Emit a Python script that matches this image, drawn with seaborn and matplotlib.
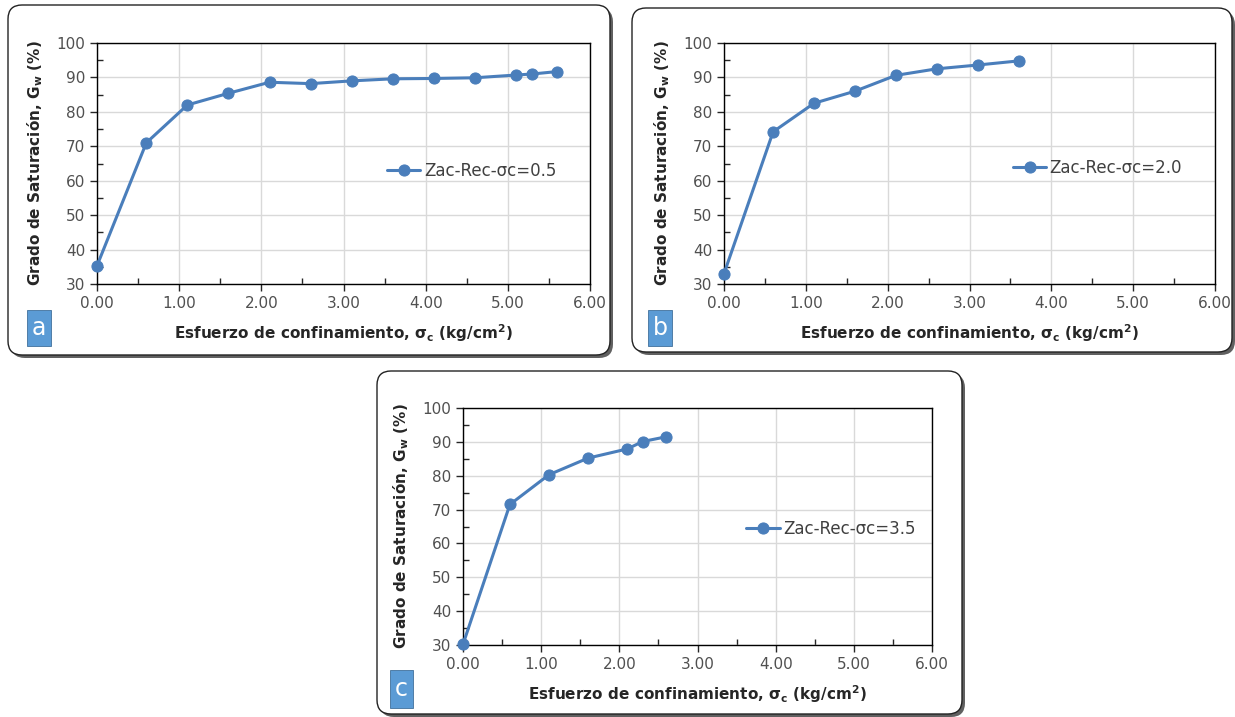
import numpy as np
import pandas as pd
import matplotlib
matplotlib.use("Agg")
import matplotlib.pyplot as plt
import seaborn as sns
from matplotlib.patches import FancyBboxPatch, Rectangle
from matplotlib.transforms import IdentityTransform
from matplotlib.ticker import MultipleLocator, FormatStrFormatter

# datos
sigma_a = [0.0, 0.6, 1.1, 1.6, 2.1, 2.6, 3.1, 3.6, 4.1, 4.6, 5.1, 5.3, 5.6]
gw_a = [35.3, 71.0, 82.0, 85.4, 88.6, 88.2, 89.0, 89.6, 89.7, 89.9, 90.7, 91.0, 91.7]
sigma_b = [0.0, 0.6, 1.1, 1.6, 2.1, 2.6, 3.1, 3.6]
gw_b = [33.0, 74.2, 82.5, 86.0, 90.6, 92.5, 93.6, 94.8]
sigma_c = [0.0, 0.6, 1.1, 1.6, 2.1, 2.3, 2.6]
gw_c = [30.2, 71.5, 80.3, 85.2, 87.9, 90.1, 91.5]
labels = ["Zac-Rec-σc=0.5", "Zac-Rec-σc=2.0", "Zac-Rec-σc=3.5"]
letters = ["a", "b", "c"]

sns.set_style("white")
plt.rcParams['font.family'] = ['DejaVu Sans']
plt.rcParams['mathtext.fontset'] = 'dejavusans'

W, H = 1235, 717
fig = plt.figure(figsize=(W / 100, H / 100), dpi=100)
blue = "#4a7ebb"


def panel_box(x0, y0, x1, y1):
    # caja redondeada con sombra, coordenadas en pixeles (y hacia abajo)
    sh = FancyBboxPatch((x0 + 3, H - y1 - 3), x1 - x0, y1 - y0,
                        boxstyle="round,pad=0,rounding_size=14",
                        transform=IdentityTransform(), facecolor="#606060",
                        edgecolor="none", zorder=-3)
    bx = FancyBboxPatch((x0, H - y1), x1 - x0, y1 - y0,
                        boxstyle="round,pad=0,rounding_size=14",
                        transform=IdentityTransform(), facecolor="white",
                        edgecolor="#222222", linewidth=1.0, zorder=-2)
    fig.patches.extend([sh, bx])


def letter_box(x0, y0, x1, y1, txt):
    r = Rectangle((x0, H - y1), x1 - x0, y1 - y0, transform=IdentityTransform(),
                  facecolor="#5b9bd5", edgecolor="#41719c", linewidth=0.6, zorder=1)
    fig.patches.append(r)
    fig.text((x0 + x1) / 2 / W, (H - (y0 + y1) / 2) / H, txt, color="white",
             fontsize=17, ha="center", va="center", zorder=2)


def panel(left, right, top, bottom, xs, ys, lab, leg_x, leg_y):
    ax = fig.add_axes([left / W, (H - bottom) / H, (right - left) / W, (bottom - top) / H])
    df = pd.DataFrame({"x": xs, "y": ys})
    sns.lineplot(data=df, x="x", y="y", ax=ax, color=blue, marker="o",
                 markersize=8, linewidth=2.2, markeredgecolor=blue, label=lab,
                 clip_on=False, zorder=3)
    ax.set_xlim(0, 6)
    ax.set_ylim(30, 100)
    ax.xaxis.set_major_locator(MultipleLocator(1))
    ax.xaxis.set_minor_locator(MultipleLocator(0.5))
    ax.yaxis.set_major_locator(MultipleLocator(10))
    ax.yaxis.set_minor_locator(MultipleLocator(5))
    ax.xaxis.set_major_formatter(FormatStrFormatter("%.2f"))
    ax.grid(True, which="major", color="#d9d9d9", linewidth=1.0)
    ax.set_axisbelow(True)
    for s in ax.spines.values():
        s.set_color("black")
        s.set_linewidth(1.0)
    ax.tick_params(which="major", direction="out", length=5, width=1,
                   labelsize=11, labelcolor="#505050", bottom=True, left=True)
    ax.tick_params(which="minor", direction="in", length=4, width=1,
                   bottom=True, left=True)
    ax.set_xlabel("Esfuerzo de confinamiento, σ$_\\mathbf{c}$ (kg/cm$^\\mathbf{2}$)",
                  fontsize=11, fontweight="bold", labelpad=8)
    ax.set_ylabel("Grado de Saturación, G$_\\mathbf{w}$ (%)",
                  fontsize=11, fontweight="bold", labelpad=8)
    leg = ax.legend(loc="center left", bbox_to_anchor=(leg_x, leg_y), frameon=False,
                    fontsize=12, handlelength=2.0, borderaxespad=0, handletextpad=0.2)
    for t in leg.get_texts():
        t.set_color("#404040")
    return ax


panel_box(8, 5, 610, 355)
panel_box(632, 8, 1232, 352)
panel_box(377, 371, 962, 714)

panel(97, 590, 43, 284, sigma_a, gw_a, labels[0], 0.575, 0.47)
panel(724, 1215, 43, 284, sigma_b, gw_b, labels[1], 0.575, 0.48)
panel(463, 932, 408, 645, sigma_c, gw_c, labels[2], 0.59, 0.49)

letter_box(27, 310, 51, 346, letters[0])
letter_box(648, 310, 672, 346, letters[1])
letter_box(390, 670, 413, 708, letters[2])

fig.savefig("out.png", dpi=100)
